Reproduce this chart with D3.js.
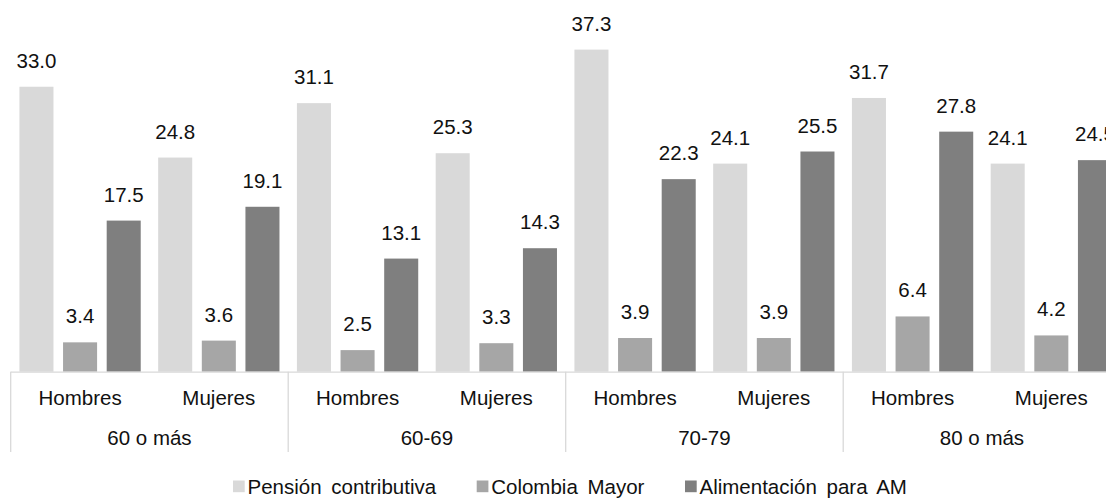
<!DOCTYPE html>
<html>
<head>
<meta charset="utf-8">
<script src="https://cdn.jsdelivr.net/npm/d3@7"></script>
<style>
  html, body { margin: 0; padding: 0; background: #fff; }
  svg { display: block; font-family: "Liberation Sans", Arial, sans-serif; }
</style>
</head>
<body>
<svg id="chart" width="1106" height="498"></svg>
<script>
// Age groups and sex sub-categories
const ageGroups = ["60 o más", "60-69", "70-79", "80 o más"];
const sexes = ["Hombres", "Mujeres"];
const seriesNames = ["Pensión contributiva", "Colombia Mayor", "Alimentación para AM"];

// Values per (age group, sex), in order: H, M for each age group
const pensionContributiva = [33.0, 24.8, 31.1, 25.3, 37.3, 24.1, 31.7, 24.1];
const colombiaMayor       = [3.4, 3.6, 2.5, 3.3, 3.9, 3.9, 6.4, 4.2];
const alimentacionAM      = [17.5, 19.1, 13.1, 14.3, 22.3, 25.5, 27.8, 24.5];

const seriesColors = ["#d9d9d9", "#a6a6a6", "#7f7f7f"];

const svg = d3.select("#chart");
const W = 1106, H = 498;
const baseY = 371.7;
const left = 10.7, right = 1120.7;

const seriesValues = [pensionContributiva, colombiaMayor, alimentacionAM];

const x0 = d3.scaleBand().domain(ageGroups).range([left, right]).padding(0);
const x1 = d3.scaleBand().domain(sexes).range([0, x0.bandwidth()]).padding(0);
const x2 = d3.scaleBand().domain(seriesNames).range([0, x1.bandwidth()])
  .paddingInner(0.22).paddingOuter(0.2);
const y = d3.scaleLinear().domain([0, 40]).range([baseY, baseY - 40 * 8.635]);

const fontSize = 20.5;

// Flatten into records
const records = [];
ageGroups.forEach((g, gi) => {
  sexes.forEach((s, si) => {
    seriesNames.forEach((n, ni) => {
      records.push({ group: g, sex: s, series: n, idx: ni,
        value: seriesValues[ni][gi * 2 + si] });
    });
  });
});

const xPos = d => x0(d.group) + x1(d.sex) + x2(d.series);

// Bars
svg.append("g").selectAll("rect").data(records).join("rect")
  .attr("x", xPos)
  .attr("y", d => y(d.value))
  .attr("width", x2.bandwidth())
  .attr("height", d => y(0) - y(d.value))
  .attr("fill", d => seriesColors[d.idx]);

// Value labels
svg.append("g").selectAll("text").data(records).join("text")
  .attr("x", d => xPos(d) + x2.bandwidth() / 2)
  .attr("y", d => y(d.value) - 19)
  .attr("text-anchor", "middle")
  .attr("font-size", fontSize)
  .attr("fill", "#111")
  .text(d => d.value.toFixed(1));

// Category axis: baseline and group separators
const axisColor = "#d9d9d9";
const axisG = svg.append("g");
axisG.append("line")
  .attr("x1", left).attr("x2", W)
  .attr("y1", baseY + 0.5).attr("y2", baseY + 0.5)
  .attr("stroke", axisColor).attr("stroke-width", 1.3);

const sepXs = ageGroups.map(g => x0(g)).concat([x0.range()[1]]);
axisG.selectAll("line.sep").data(sepXs).join("line")
  .attr("class", "sep")
  .attr("x1", d => d).attr("x2", d => d)
  .attr("y1", baseY).attr("y2", 452)
  .attr("stroke", axisColor).attr("stroke-width", 1.3);

// Sex labels
const subLabels = [];
ageGroups.forEach(g => sexes.forEach(s => subLabels.push({ g, s })));
axisG.selectAll("text.sub").data(subLabels).join("text")
  .attr("class", "sub")
  .attr("x", d => x0(d.g) + x1(d.s) + x1.bandwidth() / 2)
  .attr("y", 405)
  .attr("text-anchor", "middle")
  .attr("font-size", fontSize)
  .attr("fill", "#111")
  .text(d => d.s);

// Age group labels
axisG.selectAll("text.grp").data(ageGroups).join("text")
  .attr("class", "grp")
  .attr("x", d => x0(d) + x0.bandwidth() / 2)
  .attr("y", 445)
  .attr("text-anchor", "middle")
  .attr("font-size", fontSize)
  .attr("fill", "#111")
  .text(d => d);

// Legend
const legendX = [233, 476.7, 685];
const legend = svg.append("g").selectAll("g").data(seriesNames).join("g")
  .attr("transform", (d, i) => `translate(${legendX[i]},0)`);
legend.append("rect")
  .attr("x", 0).attr("y", 480.5)
  .attr("width", 11.7).attr("height", 11.7)
  .attr("fill", (d, i) => seriesColors[i]);
legend.append("text")
  .attr("x", 14.5).attr("y", 493.5)
  .attr("font-size", fontSize)
  .attr("word-spacing", 4)
  .attr("fill", "#111")
  .text(d => d);
</script>
</body>
</html>
